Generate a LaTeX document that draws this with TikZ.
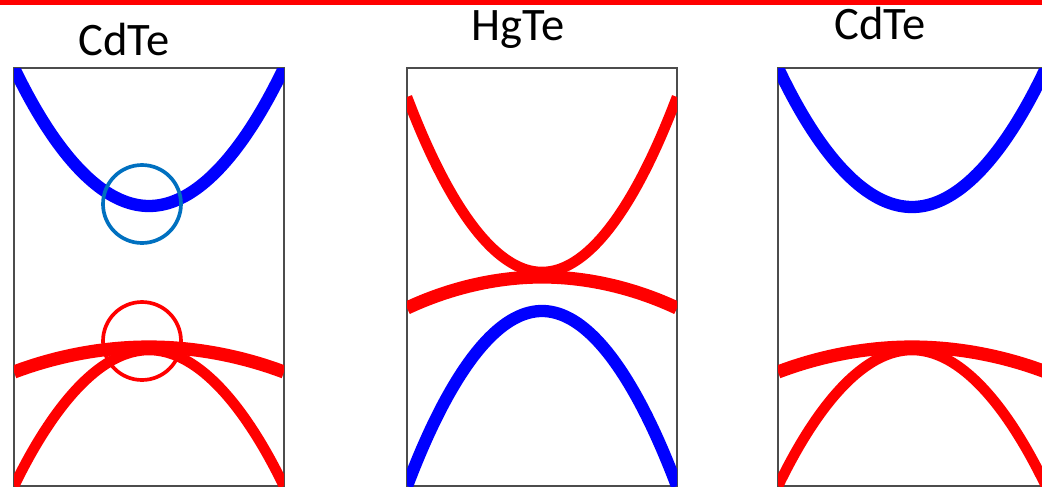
\documentclass[tikz,border=0pt]{standalone}
\usepackage{fontspec}
\setmainfont{Carlito}
\usetikzlibrary{positioning}
\definecolor{bandblue}{RGB}{0,0,255}
\definecolor{bandred}{RGB}{255,0,0}
\definecolor{ringblue}{RGB}{0,112,192}

\begin{document}
\begin{tikzpicture}[x=0.02cm,y=-0.02cm,
                panel/.style={draw=black!70,line width=0.9pt},
                title/.style={font=\fontsize{26.5}{31}\selectfont,anchor=base,inner sep=0pt},
                cband/.style={bandblue,line width=7pt},
                lhband/.style={bandred,line width=7.5pt},
                hhband/.style={bandred,line width=6pt},
                ring/.style={circle,draw,line width=2.1pt,minimum size=1.56cm,inner sep=0pt}]
                \useasboundingbox (0,0) rectangle (1042,487);
                \fill[bandred] (0,0) rectangle (1042,5);
                % titles
                \node[title] (cdteL) at (124,55) {CdTe};
                \node[title] (hgte)  at (518,40) {HgTe};
                \node[title] (cdteR) at (880,39) {CdTe};
                % left panel
                \draw[panel] (14,68) rectangle (284,486);
                \begin{scope}
                  \clip (14,68) rectangle (284,486);
                  \draw[cband]  (14,68)  parabola bend (149,206) (284,68);
                  \draw[lhband] (14,372) parabola bend (149,347) (284,372);
                  \draw[hhband] (14,486) parabola bend (149,350) (284,486);
                \end{scope}
                \node[ring,draw=ringblue] (ringC) at (142,204) {};
                \node[ring,draw=bandred]  (ringV) at (142,341) {};
                % middle panel
                \draw[panel] (407,68) rectangle (677,486);
                \begin{scope}
                  \clip (407,68) rectangle (677,486);
                  \draw[hhband] (407,97)  parabola bend (542,272) (677,97);
                  \draw[lhband] (407,308) parabola bend (542,277) (677,308);
                  \draw[cband]  (407,486) parabola bend (542,311) (677,486);
                \end{scope}
                % right panel
                \draw[panel] (778,68) rectangle (1046,486);
                \begin{scope}
                  \clip (778,68) rectangle (1046,486);
                  \draw[cband]  (778,68)  parabola bend (912,207) (1046,68);
                  \draw[lhband] (778,372) parabola bend (912,347) (1046,372);
                  \draw[hhband] (778,486) parabola bend (912,350) (1046,486);
                \end{scope}
            \end{tikzpicture}
\end{document}
